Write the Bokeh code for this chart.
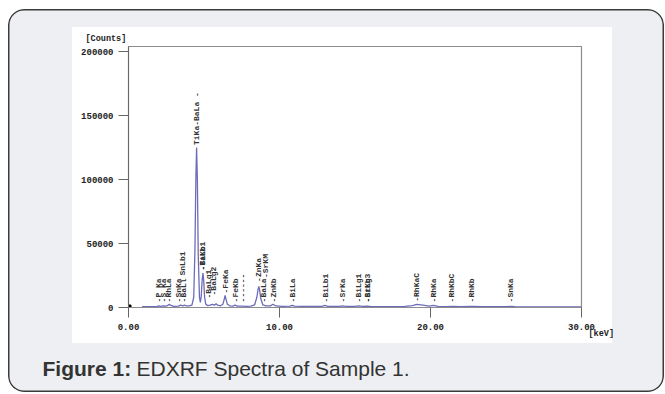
import numpy as np
from bokeh.plotting import figure
from bokeh.layouts import column
from bokeh.models import (ColumnDataSource, FixedTicker, PrintfTickFormatter, NumeralTickFormatter,
                          Title, Range1d)
from bokeh.core.properties import value
from bokeh.embed import file_html
from bokeh.resources import INLINE

# ---- data ----
energy_kev = [0.9, 1.2, 1.6, 1.9, 2.0, 2.1, 2.3, 2.5, 2.6, 2.7, 2.8, 3.0, 3.3, 3.45, 3.6, 3.7, 3.8,
              4.0, 4.2, 4.32, 4.4, 4.46, 4.51, 4.56, 4.62, 4.7, 4.76, 4.82, 4.88, 4.93, 4.98, 5.04,
              5.12, 5.25, 5.4, 5.55, 5.7, 5.8, 5.9, 6.1, 6.25, 6.33, 6.4, 6.47, 6.55, 6.7, 6.9,
              7.06, 7.2, 7.5, 7.8, 8.1, 8.35, 8.5, 8.58, 8.63, 8.68, 8.76, 8.9, 9.1, 9.4, 9.57,
              9.75, 10.2, 10.7, 10.84, 11.0, 11.8, 12.8, 13.0, 13.2, 14.0, 14.16, 14.4, 15.0,
              15.25, 15.5, 15.8, 16.1, 17.0, 18.3, 18.8, 19.1, 19.5, 19.9, 20.2, 20.5, 21.0,
              21.5, 22.0, 22.7, 23.5, 25.0, 25.3, 25.6, 27.0, 30.0]
counts = [600, 700, 700, 900, 1300, 900, 1300, 1000, 1600, 2600, 1600, 900, 1100, 1800, 1200, 2000, 1300,
          1200, 1800, 8000, 45000, 100000, 125000, 100000, 40000, 8000, 4000, 9000, 22000, 27000, 21000, 8000,
          2500, 1500, 1800, 2500, 1800, 3000, 1800, 1300, 2500, 6000, 9400, 6000, 2500, 1300, 1100,
          1800, 1100, 1000, 900, 1000, 2000, 8000, 14000, 16500, 14000, 7000, 2000, 1200, 1300, 2500,
          1200, 900, 1000, 1700, 1000, 800, 900, 1600, 900, 800, 1200, 800, 800,
          1200, 800, 1100, 700, 700, 800, 1500, 2400, 1800, 1100, 1600, 900, 700,
          900, 600, 900, 600, 600, 900, 600, 500, 500]

peak_labels = ["-P Ka", "-S Ka", "-RhLa", "-SnKa", "-BaLl", "SnLb1", "TiKa-BaLa -", "-TiKb", "-BaLb1",
               "-BaLg1", "-BaLg2", "-FeKa", "-FeKb", "------", "-ZnKa", "-SrKM", "-BaLa", "-ZnKb",
               "-BiLa", "-BiLb1", "-SrKa", "-BiLg1", "-BiLg3", "-SrKb", "-RhKaC", "-RhKa", "-RhKbC",
               "-RhKb", "-SnKa"]
label_kev = [2.0, 2.31, 2.64, 3.31, 3.64, 3.58, 4.51, 4.93, 4.93,
             5.32, 5.64, 6.4, 7.06, 7.55, 8.63, 9.05, 8.94, 9.57,
             10.84, 13.02, 14.16, 15.25, 15.8, 15.84, 19.1, 20.2, 21.4,
             22.7, 25.3]
label_counts = [4000, 4000, 4000, 4000, 4000, 25000, 127000, 29000, 29000,
                7000, 9400, 11000, 4000, 4000, 20000, 23000, 4000, 4000,
                4000, 4000, 4000, 4000, 4000, 4000, 4500, 4000, 4000,
                4000, 4000]

x_ticks = [0, 10, 20, 30]
y_ticks = [0, 50000, 100000, 150000, 200000]

caption_bold = "Figure 1:"
caption_text = "EDXRF Spectra of Sample 1."

mono = "Liberation Mono"

# ---- main figure ----
p = figure(width=656, height=340, x_range=(0, 30), y_range=(0, 204000),
           output_backend="svg", toolbar_location=None,
           min_border_left=120, min_border_right=83, min_border_top=37, min_border_bottom=42)
p.grid.visible = False
p.border_fill_color = None
p.background_fill_color = "white"
p.outline_line_color = "#8c8c8c"
p.outline_line_width = 1.2

p.xaxis.ticker = FixedTicker(ticks=x_ticks)
p.xaxis.formatter = PrintfTickFormatter(format="%.2f")
p.yaxis.ticker = FixedTicker(ticks=y_ticks)
p.yaxis.formatter = NumeralTickFormatter(format="0")
for ax in (p.xaxis, p.yaxis):
    ax.major_tick_out = 10
    ax.major_tick_in = 0
    ax.minor_tick_line_color = None
    ax.axis_line_color = "#666666"
    ax.major_tick_line_color = "#666666"
    ax.major_label_text_font = mono
    ax.major_label_text_font_size = "9px"
    ax.major_label_text_font_style = "bold"
    ax.major_label_text_color = "#222222"
    ax.major_label_standoff = 5
p.xaxis.axis_line_color = "#8c8c8c"
p.xaxis.major_label_standoff = 6

src = ColumnDataSource(dict(kev=energy_kev, cnt=counts))
p.line("kev", "cnt", source=src, line_color="#6c6cba", line_width=1.3)
p.scatter(x=[0], y=[0], marker="square", size=5, color="black")

lab = ColumnDataSource(dict(kev=label_kev, cnt=label_counts, txt=peak_labels))
p.text(x="kev", y="cnt", text="txt", source=lab, angle=np.pi / 2,
       text_align="left", text_baseline="middle",
       text_font=value(mono), text_font_size="8px", text_font_style="bold",
       text_color="#333333")

p.add_layout(Title(text="[Counts]", align="left", offset=-43, standoff=5,
                   text_font=mono, text_font_size="8.5px", text_font_style="bold",
                   text_color="#222222"), "above")
kev_title = Title(text="[keV]", align="left", offset=460, standoff=0,
                  text_font=mono, text_font_size="8.5px", text_font_style="bold",
                  text_color="#222222")
try:
    kev_title.standoff = -11
except Exception:
    pass
p.add_layout(kev_title, "below")

# ---- caption strip ----
cap = figure(width=656, height=43, x_range=Range1d(0, 656), y_range=Range1d(43, 0),
             output_backend="svg", toolbar_location=None, x_axis_type=None, y_axis_type=None,
             min_border=0)
cap.grid.visible = False
cap.border_fill_color = None
cap.background_fill_color = None
cap.outline_line_color = None
for fig in (p, cap):
    try:
        fig.frame_align = False
    except Exception:
        pass
cap.text(x=[34], y=[19], text=[caption_bold], text_font=value("Liberation Sans"),
         text_font_size="21px", text_font_style="bold", text_color="#333333",
         text_baseline="middle", text_align="left")
cap.text(x=[34], y=[19], x_offset=94, text=[caption_text], text_font=value("Liberation Sans"),
         text_font_size="21px", text_color="#333333",
         text_baseline="middle", text_align="left")

root = column(p, cap, spacing=0)
root.margin = (9, 0, 0, 8)
root.styles = {
    "background": "linear-gradient(#ffffff, #ffffff) 64px 18px / 540px 316px no-repeat, #edeff2",
    "border-radius": "16px",
    "box-shadow": "inset 0 0 0 1.5px #3a3a3a",
}

open("out.html", "w").write(file_html(root, INLINE))
